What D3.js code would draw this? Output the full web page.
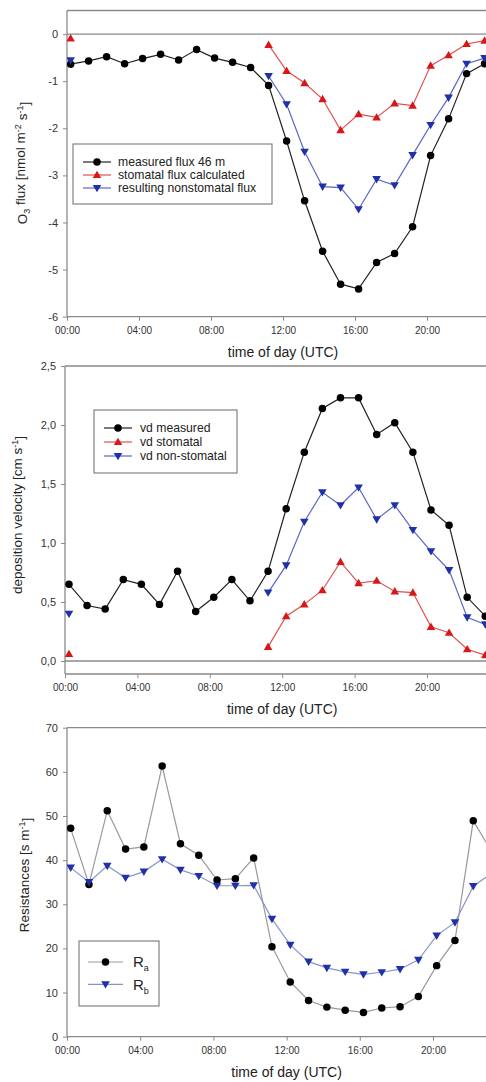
<!DOCTYPE html>
<html><head><meta charset="utf-8">
<script src="https://cdn.jsdelivr.net/npm/d3@7"></script>
<style>body{margin:0;background:#fff}svg{display:block;font-family:"Liberation Sans",Arial,sans-serif}</style>
</head><body>
<svg id="c" width="486" height="1082"></svg>
<script>
const hours = d3.range(24);
const xTicks = [0,4,8,12,16,20];
const xTickLabels = ["00:00","04:00","08:00","12:00","16:00","20:00"];

// Panel 1: O3 flux
const fluxMeasured = [-0.64,-0.57,-0.48,-0.63,-0.52,-0.43,-0.55,-0.33,-0.51,-0.60,-0.71,-1.09,-2.27,-3.54,-4.61,-5.31,-5.41,-4.85,-4.66,-4.09,-2.58,-1.80,-0.84,-0.63];
const fluxStomatal = [-0.09,null,null,null,null,null,null,null,null,null,null,-0.23,-0.78,-1.04,-1.38,-2.04,-1.70,-1.77,-1.47,-1.52,-0.67,-0.45,-0.21,-0.14];
const fluxNonStomatal = [-0.56,null,null,null,null,null,null,null,null,null,null,-0.89,-1.49,-2.50,-3.24,-3.26,-3.72,-3.08,-3.21,-2.57,-1.93,-1.35,-0.63,-0.51];
const fluxTicks = [0,-1,-2,-3,-4,-5,-6];

// Panel 2: deposition velocity
const vdMeasured = [0.65,0.47,0.44,0.69,0.65,0.48,0.76,0.42,0.54,0.69,0.51,0.76,1.29,1.77,2.14,2.23,2.23,1.92,2.02,1.77,1.28,1.15,0.54,0.38];
const vdStomatal = [0.06,null,null,null,null,null,null,null,null,null,null,0.12,0.38,0.48,0.60,0.84,0.66,0.68,0.59,0.58,0.29,0.24,0.10,0.05];
const vdNonStomatal = [0.40,null,null,null,null,null,null,null,null,null,null,0.58,0.81,1.18,1.43,1.32,1.47,1.20,1.32,1.11,0.93,0.77,0.37,0.31];
const vdTicks = [0,0.5,1,1.5,2,2.5];
const vdTickLabels = ["0,0","0,5","1,0","1,5","2,0","2,5"];

// Panel 3: resistances
const Ra = [47.2,34.5,51.2,42.5,43.0,61.3,43.7,41.1,35.5,35.8,40.5,20.4,12.4,8.2,6.7,6.0,5.5,6.5,6.8,9.1,16.1,21.8,48.9,42.0];
const Rb = [38.3,35.0,38.7,36.0,37.4,40.2,37.8,36.4,34.2,34.2,34.3,26.7,20.8,17.0,15.6,14.7,14.1,14.6,15.3,17.4,22.9,25.9,34.1,37.0];
const resTicks = [0,10,20,30,40,50,60,70];

const svg = d3.select("#c");
const AX = "#8a8a8a", TXT = "#333";

function panel(cfg){
  const g = svg.append("g");
  const x = d3.scaleLinear().domain([0,24]).range([cfg.x0, cfg.x0 + 24*cfg.pph]);
  const y = d3.scaleLinear().domain(cfg.yDomain).range([cfg.yBottom, cfg.yTop]);
  const id = "clip"+cfg.id;
  svg.append("clipPath").attr("id",id).append("rect")
    .attr("x",cfg.x0).attr("y",cfg.yTop-6).attr("width",600).attr("height",cfg.yBottom-cfg.yTop+12);
  g.append("line").attr("x1",cfg.x0).attr("x2",600).attr("y1",cfg.yTop).attr("y2",cfg.yTop).attr("stroke",AX).attr("stroke-width",1.3);
  if(cfg.zeroLine) g.append("line").attr("x1",cfg.x0).attr("x2",600).attr("y1",y(0)).attr("y2",y(0)).attr("stroke",AX).attr("stroke-width",1.3);
  const ya = d3.axisLeft(y).tickValues(cfg.yTicks).tickSize(4).tickPadding(5)
    .tickFormat((d,i)=>cfg.yTickLabels?cfg.yTickLabels[i]:String(d));
  const yg = g.append("g").attr("transform",`translate(${cfg.x0},0)`).call(ya);
  const xa = d3.axisBottom(x).tickValues(xTicks).tickSize(4).tickPadding(6).tickFormat((d,i)=>xTickLabels[i]);
  const xg = g.append("g").attr("transform",`translate(0,${cfg.yBottom})`).call(xa);
  [yg,xg].forEach(a=>{
    a.select(".domain").attr("stroke",AX).attr("stroke-width",1.3);
    a.selectAll(".tick line").attr("stroke",AX);
    a.selectAll("text").attr("fill",TXT).style("font-family","'Liberation Sans',Arial,sans-serif");
  });
  yg.selectAll("text").style("font-size","11px");
  xg.selectAll("text").style("font-size","10px");
  xg.select(".domain").attr("d",`M${cfg.x0},0H600`);
  yg.select(".domain").attr("d",`M0,${cfg.yBottom}V${cfg.yTop}`);
  g.append("text").attr("x",x(12)).attr("y",cfg.yBottom+40).attr("text-anchor","middle")
    .attr("fill","#222").style("font-size","14px").text("time of day (UTC)");
  const yt = g.append("text").attr("transform",`translate(${cfg.ytX},${cfg.ytY}) rotate(-90)`)
    .attr("text-anchor","middle").attr("fill","#222").style("font-size","13.5px");
  cfg.yTitle(yt);
  const pg = g.append("g").attr("clip-path",`url(#${id})`);
  cfg.series.forEach(s=>{
    const pts = hours.map(h=>({h, v:s.values[h]}));
    const line = d3.line().defined(d=>d.v!=null).x(d=>x(d.h+cfg.off)).y(d=>y(d.v));
    pg.append("path").attr("d",line(pts)).attr("fill","none").attr("stroke",s.line).attr("stroke-width",1.2);
    pg.selectAll(null).data(pts.filter(d=>d.v!=null)).enter().append("path")
      .attr("transform",d=>`translate(${x(d.h+cfg.off)},${y(d.v)})`)
      .attr("d",marker(s.shape)).attr("fill",s.fill);
  });
  const L = cfg.legend;
  g.append("rect").attr("x",L.x).attr("y",L.y).attr("width",L.w).attr("height",L.h)
    .attr("fill","#fff").attr("stroke","#777").attr("stroke-width",1.1);
  cfg.series.forEach((s,i)=>{
    const yy = L.y + L.first + i*L.dy;
    g.append("line").attr("x1",L.x+L.lx0).attr("x2",L.x+L.lx1).attr("y1",yy).attr("y2",yy).attr("stroke",s.line).attr("stroke-width",1.2);
    g.append("path").attr("transform",`translate(${L.x+(L.lx0+L.lx1)/2},${yy})`).attr("d",marker(s.shape)).attr("fill",s.fill);
    const t = g.append("text").attr("x",L.x+L.tx).attr("y",yy).attr("dy","0.35em").attr("fill","#222").style("font-size",L.fs+"px");
    if(s.sub){ t.text(s.label); t.append("tspan").attr("dy","0.45em").style("font-size",(L.fs*0.6)+"px").text(s.sub); }
    else t.text(s.label);
  });
}
function marker(shape){
  if(shape==="circle") return d3.symbol(d3.symbolCircle, 44)();
  const r=4.3;
  if(shape==="up") return `M0,${-r}L${r},${r*0.72}L${-r},${r*0.72}Z`;
  return `M0,${r}L${r},${-r*0.72}L${-r},${-r*0.72}Z`;
}

panel({id:1, x0:67, pph:18.0, off:0.2, yDomain:[-6,0.5], yBottom:316.7, yTop:10.5, zeroLine:true,
  yTicks:fluxTicks, ytX:27, ytY:163,
  yTitle:t=>{ t.append("tspan").text("O");
    t.append("tspan").attr("dy","0.35em").style("font-size","9px").text("3");
    t.append("tspan").attr("dy","-0.35em").text(" flux [nmol m");
    t.append("tspan").attr("dy","-0.45em").style("font-size","9px").text("-2");
    t.append("tspan").attr("dy","0.45em").text(" s");
    t.append("tspan").attr("dy","-0.45em").style("font-size","9px").text("-1");
    t.append("tspan").attr("dy","0.45em").text("]"); },
  series:[
    {values:fluxMeasured, line:"#222", fill:"#000", shape:"circle", label:"measured flux 46 m"},
    {values:fluxStomatal, line:"#e05050", fill:"#d81818", shape:"up", label:"stomatal flux calculated"},
    {values:fluxNonStomatal, line:"#5a66c8", fill:"#2030a8", shape:"down", label:"resulting nonstomatal flux"}],
  legend:{x:73,y:144,w:199,h:60,first:18,dy:13,lx0:10,lx1:38,tx:45,fs:12.2}
});

panel({id:2, x0:65, pph:18.1, off:0.22, yDomain:[-0.11,2.5], yBottom:674, yTop:366, zeroLine:true,
  yTicks:vdTicks, yTickLabels:vdTickLabels, ytX:22, ytY:515,
  yTitle:t=>{ t.append("tspan").text("deposition velocity [cm s");
    t.append("tspan").attr("dy","-0.45em").style("font-size","9px").text("-1");
    t.append("tspan").attr("dy","0.45em").text("]"); },
  series:[
    {values:vdMeasured, line:"#222", fill:"#000", shape:"circle", label:"vd measured"},
    {values:vdStomatal, line:"#e05050", fill:"#d81818", shape:"up", label:"vd stomatal"},
    {values:vdNonStomatal, line:"#5a66c8", fill:"#2030a8", shape:"down", label:"vd non-stomatal"}],
  legend:{x:94,y:410,w:143,h:63,first:18,dy:14,lx0:10,lx1:38,tx:46,fs:12.2}
});

panel({id:3, x0:67, pph:18.3, off:0.2, yDomain:[0,70], yBottom:1036.7, yTop:727.7, zeroLine:false,
  yTicks:resTicks, ytX:29, ytY:875,
  yTitle:t=>{ t.append("tspan").text("Resistances [s m");
    t.append("tspan").attr("dy","-0.45em").style("font-size","9px").text("-1");
    t.append("tspan").attr("dy","0.45em").text("]"); },
  series:[
    {values:Ra, line:"#999", fill:"#000", shape:"circle", label:"R", sub:"a"},
    {values:Rb, line:"#8a94cc", fill:"#2030a8", shape:"down", label:"R", sub:"b"}],
  legend:{x:79,y:941,w:80,h:65,first:21,dy:22.3,lx0:9,lx1:44,tx:54,fs:15}
});
</script>
</body></html>
